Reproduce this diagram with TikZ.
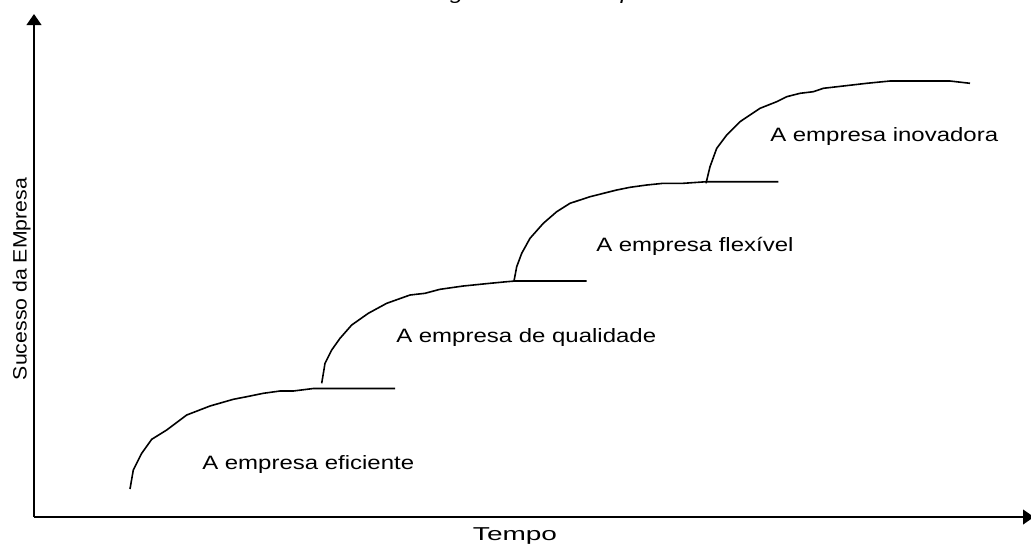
\documentclass[tikz,border=0pt]{standalone}
\usepackage{fontspec}
\setmainfont{Liberation Sans}
\newfontfamily\lblfont[FakeStretch=1.24]{Liberation Sans}
\newfontfamily\tempofont[FakeStretch=1.5]{Liberation Sans}
\newfontfamily\sucfont[FakeStretch=1.1]{Liberation Sans}
\usetikzlibrary{arrows.meta}

\begin{document}
\begin{tikzpicture}[x=0.75pt,y=-0.75pt,
  axis/.style={line width=1.5pt,-{Triangle[length=8.25pt,width=11pt]}},
  curve/.style={line width=1.2pt},
  lbl/.style={anchor=base west,inner sep=0pt,font=\lblfont\fontsize{14.5}{17}\selectfont}]
\useasboundingbox (0,0) rectangle (1031,544);

\def\xo{34};
\def\yo{517};

% axes
\coordinate (o) at (\xo,\yo);
\coordinate (ytip) at (\xo,14);
\coordinate (xtip) at (1034,\yo);
\draw[axis] (o) -- (ytip);
\draw[axis] (o) -- (xtip);

\node[anchor=base,inner sep=0pt,font=\tempofont\fontsize{14}{17}\selectfont] (tempo) at (515,540) {Tempo};
\node[anchor=base,rotate=90,inner sep=0pt,font=\sucfont\fontsize{14.5}{17}\selectfont] (sucesso) at (26.7,279) {Sucesso da EMpresa};

% title, cut off by the page
\node[anchor=base west,inner sep=0pt,font=\lblfont\itshape\fontsize{14.5}{17}\selectfont] (titulo) at (402,-1) {Estágios de uma empresa};

% the four steps
\draw[curve] (130,489) -- (133.3,470) -- (141.7,453.3) -- (151.7,439.3) -- (166.7,430)
  -- (186.7,415) -- (210,406) -- (233.3,399.3) -- (246.7,396.7) -- (263.3,393.3)
  -- (280,391) -- (293.3,391) -- (313.3,388.5) -- (395,388.5);
\draw[curve] (321.7,383.3) -- (325,363.3) -- (331.7,350) -- (340,338.3) -- (351.7,325)
  -- (368.3,313.3) -- (386.7,303.3) -- (410,295) -- (425,293.3) -- (440,289.3)
  -- (463.3,286) -- (490,283.3) -- (506.7,281.7) -- (515,281) -- (586.7,281);
\draw[curve] (514,281) -- (516.7,266.7) -- (521.7,253.3) -- (530,238.3) -- (543.3,223.3)
  -- (556.7,211.7) -- (570,203.3) -- (590,196.7) -- (616.7,190) -- (630,187.3)
  -- (646.7,185) -- (663.3,183.3) -- (683.3,183.3) -- (706.7,181.7) -- (778.3,181.7);
\draw[curve] (706,183.3) -- (710,166.7) -- (716.7,148.3) -- (726.7,135) -- (740,121.7)
  -- (760,108.3) -- (776.7,101.7) -- (786.7,96.7) -- (800,93.3) -- (813.3,91.7)
  -- (823.3,88.3) -- (843.3,86) -- (866.7,83.3) -- (890,81) -- (950,81) -- (970,83.3);

\node[lbl] (eficiente) at (202,469) {A empresa eficiente};
\node[lbl] (qualidade) at (396,342) {A empresa de qualidade};
\node[lbl] (flexivel) at (596,251.7) {A empresa flexível};
\node[lbl] (inovadora) at (770,141.7) {A empresa inovadora};

\end{tikzpicture}
\end{document}
